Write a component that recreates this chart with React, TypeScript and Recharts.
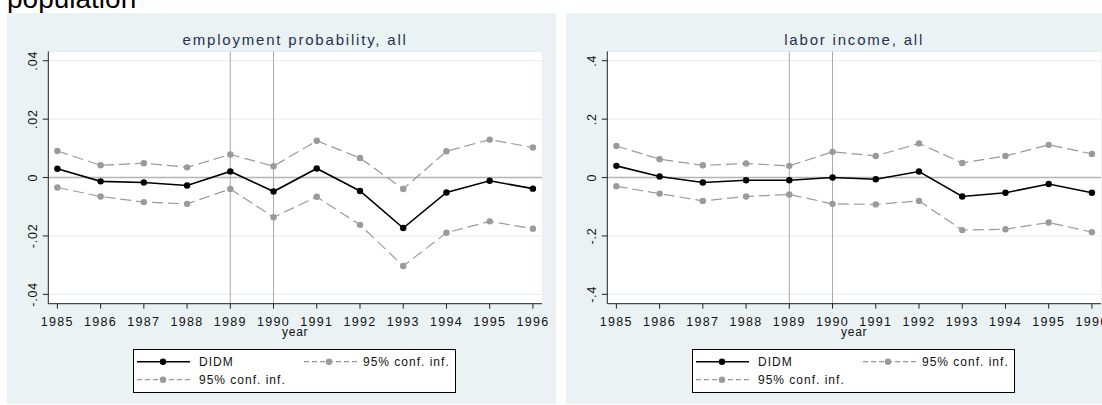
import React from 'react'
import {
  LineChart,
  Line,
  XAxis,
  YAxis,
  CartesianGrid,
  ReferenceLine,
  Legend,
} from 'recharts'

// years on the x axis
const years = [1985, 1986, 1987, 1988, 1989, 1990, 1991, 1992, 1993, 1994, 1995, 1996]

// employment probability, all
const empDidm = [0.003, -0.0013, -0.0017, -0.0027, 0.0021, -0.0048, 0.0031, -0.0046, -0.0173, -0.0051, -0.0011, -0.0038]
const empUpper = [0.0091, 0.0042, 0.0049, 0.0035, 0.0079, 0.0039, 0.0126, 0.0067, -0.0039, 0.009, 0.013, 0.0103]
const empLower = [-0.0034, -0.0065, -0.0084, -0.009, -0.0039, -0.0136, -0.0066, -0.0162, -0.0303, -0.0189, -0.015, -0.0175]

// labor income, all
const incDidm = [0.04, 0.0034, -0.017, -0.009, -0.009, 0.0, -0.006, 0.0205, -0.065, -0.052, -0.022, -0.052]
const incUpper = [0.108, 0.063, 0.042, 0.048, 0.04, 0.088, 0.074, 0.117, 0.05, 0.074, 0.112, 0.081]
const incLower = [-0.03, -0.055, -0.08, -0.065, -0.058, -0.09, -0.092, -0.08, -0.18, -0.177, -0.154, -0.187]

const empTicks = [-0.04, -0.02, 0, 0.02, 0.04]
const incTicks = [-0.4, -0.2, 0, 0.2, 0.4]
const refYears = [1989, 1990]

const FONT = "'Liberation Sans', Arial, Helvetica, sans-serif"
const PANEL_BG = '#eaf2f3'
const CI_GRAY = '#9a9a9a'
const TITLE_COLOR = '#26324f'

const CHART_W = 549
const CHART_H = 391
const PLOT_LEFT = 41.3
const PLOT_TOP = 38.4
const PLOT_W = 493.7
const PLOT_H = 252.3

// stata style: drop leading zero, ".04", "-.2"
const shortTick = (v: number) => {
  if (v === 0) return '0'
  const s = String(Math.abs(v)).replace(/^0/, '')
  return (v < 0 ? '-' : '') + s
}

function YTick(props: any) {
  const { x, y, payload } = props
  const bx = x - 5.5
  return (
    <text
      x={bx}
      y={y}
      transform={`rotate(-90 ${bx} ${y})`}
      textAnchor="middle"
      fontSize={12.5}
      letterSpacing={0.8}
      fill="#111"
      fontFamily={FONT}
    >
      {shortTick(payload.value)}
    </text>
  )
}

function StataLegend() {
  const txt = { fontSize: 12, fontFamily: FONT, fill: '#111', letterSpacing: 1 }
  return (
    <svg width={323} height={44} style={{ display: 'block' }}>
      <rect x={0.5} y={0.5} width={322} height={43} fill="#fff" stroke="#000" />
      <line x1={4} x2={57} y1={12.7} y2={12.7} stroke="#000" strokeWidth={1.5} />
      <circle cx={30} cy={12.7} r={3.2} fill="#000" />
      <text x={66} y={17} {...txt}>DIDM</text>
      <line x1={171} x2={225} y1={12.7} y2={12.7} stroke={CI_GRAY} strokeWidth={1.2} strokeDasharray="5 3" />
      <circle cx={196} cy={12.7} r={3.2} fill={CI_GRAY} />
      <text x={230} y={17} {...txt}>95% conf. inf.</text>
      <line x1={4} x2={58} y1={30.7} y2={30.7} stroke={CI_GRAY} strokeWidth={1.2} strokeDasharray="5 3" />
      <circle cx={30} cy={30.7} r={3.2} fill={CI_GRAY} />
      <text x={66} y={35} {...txt}>95% conf. inf.</text>
    </svg>
  )
}

interface PanelProps {
  left: number
  title: string
  didm: number[]
  upper: number[]
  lower: number[]
  ticks: number[]
  domain: [number, number]
}

function Panel({ left, title, didm, upper, lower, ticks, domain }: PanelProps) {
  const data = years.map((year, i) => ({
    year,
    didm: didm[i],
    upper: upper[i],
    lower: lower[i],
  }))

  return (
    <div
      style={{
        position: 'absolute',
        left,
        top: 13.3,
        width: CHART_W,
        height: CHART_H,
        background: PANEL_BG,
      }}
    >
      <svg style={{ position: 'absolute', left: 0, top: 0 }} width={CHART_W} height={40}>
        <text
          x={PLOT_LEFT + PLOT_W / 2}
          y={32.4}
          textAnchor="middle"
          fontSize={15}
          letterSpacing={1.8}
          fill={TITLE_COLOR}
          fontFamily={FONT}
        >
          {title}
        </text>
      </svg>
      <LineChart
        width={CHART_W}
        height={CHART_H}
        data={data}
        margin={{ top: PLOT_TOP, right: CHART_W - PLOT_LEFT - PLOT_W, left: 0, bottom: 0 }}
      >
        <CartesianGrid vertical={false} stroke="#e4edf0" fill="#fff" />
        <XAxis
          dataKey="year"
          type="number"
          domain={[1984.79, 1996.21]}
          ticks={years}
          interval={0}
          allowDataOverflow
          height={CHART_H - PLOT_TOP - PLOT_H}
          tickSize={5}
          tickMargin={8}
          axisLine={{ stroke: '#222' }}
          tickLine={{ stroke: '#222' }}
          tick={{ fontSize: 12.5, fill: '#111', fontFamily: FONT, letterSpacing: 1.3 }}
          label={{
            value: 'year',
            position: 'insideTop',
            offset: 23.5,
            fill: '#111',
            fontSize: 12,
            fontFamily: FONT,
            letterSpacing: 0.8,
          }}
        />
        <YAxis
          type="number"
          domain={domain}
          ticks={ticks}
          interval={0}
          allowDataOverflow
          width={PLOT_LEFT}
          tickSize={5.5}
          tickMargin={0}
          axisLine={{ stroke: '#222' }}
          tickLine={{ stroke: '#222' }}
          tick={(p: any) => <YTick {...p} />}
        />
        {refYears.map((yr) => (
          <ReferenceLine key={yr} x={yr} stroke="#a9a9a9" strokeWidth={1} />
        ))}
        <ReferenceLine y={0} stroke="#b4b4b4" strokeWidth={1.6} />
        <Legend
          layout="horizontal"
          verticalAlign="middle"
          align="center"
          wrapperStyle={{ left: 126.3, top: 335.7, width: 323, height: 44 }}
          content={() => <StataLegend />}
        />
        <Line
          dataKey="upper"
          name="95% conf. inf."
          stroke={CI_GRAY}
          strokeWidth={1.2}
          strokeDasharray="11 5"
          dot={{ r: 3.2, fill: CI_GRAY, stroke: CI_GRAY, strokeWidth: 0, strokeDasharray: '' }}
          isAnimationActive={false}
        />
        <Line
          dataKey="lower"
          name="95% conf. inf."
          stroke={CI_GRAY}
          strokeWidth={1.2}
          strokeDasharray="11 5"
          dot={{ r: 3.2, fill: CI_GRAY, stroke: CI_GRAY, strokeWidth: 0, strokeDasharray: '' }}
          isAnimationActive={false}
        />
        <Line
          dataKey="didm"
          name="DIDM"
          stroke="#000"
          strokeWidth={1.6}
          dot={{ r: 3.2, fill: '#000', stroke: '#000', strokeWidth: 0 }}
          isAnimationActive={false}
        />
      </LineChart>
    </div>
  )
}

export default function App() {
  return (
    <div
      style={{
        position: 'absolute',
        left: 0,
        top: 0,
        width: 1102,
        height: 405,
        overflow: 'hidden',
        background: '#fff',
      }}
    >
      <svg style={{ position: 'absolute', left: 0, top: 0 }} width={300} height={14}>
        <text x={7} y={8} fontSize={28} fill="#000" fontFamily={FONT}>
          population
        </text>
      </svg>
      <Panel
        left={7}
        title="employment probability, all"
        didm={empDidm}
        upper={empUpper}
        lower={empLower}
        ticks={empTicks}
        domain={[-0.0432, 0.0432]}
      />
      <Panel
        left={566}
        title="labor income, all"
        didm={incDidm}
        upper={incUpper}
        lower={incLower}
        ticks={incTicks}
        domain={[-0.432, 0.432]}
      />
    </div>
  )
}
